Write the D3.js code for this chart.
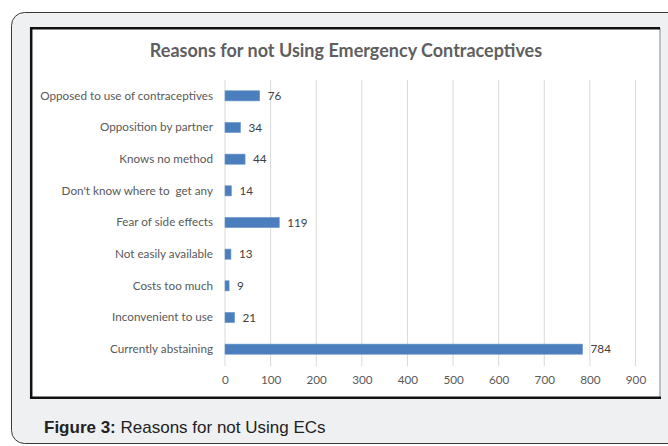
<!DOCTYPE html>
<html>
<head>
<meta charset="utf-8">
<script src="https://cdn.jsdelivr.net/npm/d3@7"></script>
<style>
  html, body { margin: 0; padding: 0; background: #fff; }
  svg { display: block; }
</style>
</head>
<body>
<svg id="chart"></svg>
<script>
// chart values
const categories = [
  "Opposed to use of contraceptives",
  "Opposition by partner",
  "Knows no method",
  "Don't know where to  get any",
  "Fear of side effects",
  "Not easily available",
  "Costs too much",
  "Inconvenient to use",
  "Currently abstaining"
];
const counts = [76, 34, 44, 14, 119, 13, 9, 21, 784];
const xTicks = [0, 100, 200, 300, 400, 500, 600, 700, 800, 900];
const chartTitle = "Reasons for not Using Emergency Contraceptives";

const W = 668, H = 446;
const svg = d3.select("#chart").attr("width", W).attr("height", H);

// figure frame
svg.append("rect")
  .attr("x", 11.5).attr("y", 12.5)
  .attr("width", 680).attr("height", 431)
  .attr("rx", 13)
  .style("fill", "#eff0f2")
  .style("stroke", "#3a3a3a")
  .style("stroke-width", 1);

// chart box
svg.append("rect")
  .attr("x", 31).attr("y", 28)
  .attr("width", 629).attr("height", 370)
  .style("fill", "#fff");
svg.append("line").attr("x1", 660).attr("x2", 660).attr("y1", 28).attr("y2", 398)
  .style("stroke", "#9a9a9a").style("stroke-width", 1.2);
svg.append("path")
  .attr("d", "M660,28.2 L31.2,28.2 L31.2,397.8 L661,397.8")
  .style("fill", "none")
  .style("stroke", "#111")
  .style("stroke-width", 2.5);

svg.append("text")
  .attr("x", 346).attr("y", 57)
  .attr("text-anchor", "middle")
  .style("font-family", "Lato, 'Open Sans', sans-serif")
  .style("font-weight", "bold")
  .style("font-size", "18px")
  .style("fill", "#5f5f5f")
  .text(chartTitle);

const x = d3.scaleLinear().domain([0, 900]).range([225, 635.5]);
const y = d3.scaleBand().domain(categories).range([80, 365]).paddingInner(0.68).paddingOuter(0.34);

const g = svg.append("g");

// gridlines
g.selectAll(".grid")
  .data(xTicks)
  .enter()
  .append("line")
  .attr("class", "grid")
  .attr("x1", d => x(d)).attr("x2", d => x(d))
  .attr("y1", 80).attr("y2", 366)
  .style("stroke", "#d9d9d9")
  .style("stroke-width", 1);

// x axis labels
const xAxis = g.append("g")
  .attr("transform", "translate(0,366)")
  .call(d3.axisBottom(x).tickValues(xTicks).tickSize(0).tickPadding(10));
xAxis.select(".domain").remove();
xAxis.selectAll("text")
  .style("font-family", "Lato, 'Open Sans', sans-serif")
  .style("font-size", "11.7px")
  .style("fill", "#595959");

// category labels
const yAxis = g.append("g")
  .attr("transform", "translate(225,0)")
  .call(d3.axisLeft(y).tickSize(0).tickPadding(12));
yAxis.select(".domain").remove();
yAxis.selectAll("text")
  .style("font-family", "Lato, 'Open Sans', sans-serif")
  .style("font-size", "11.7px")
  .style("fill", "#595959")
  .style("white-space", "pre");

// bars
g.selectAll(".bar")
  .data(counts)
  .enter()
  .append("rect")
  .attr("class", "bar")
  .attr("x", x(0))
  .attr("y", (d, i) => y(categories[i]))
  .attr("width", d => x(d) - x(0))
  .attr("height", y.bandwidth())
  .style("fill", "#4a7ebd")
  .style("stroke", "#6d98cc")
  .style("stroke-width", 0.6);

// value labels
g.selectAll(".val")
  .data(counts)
  .enter()
  .append("text")
  .attr("class", "val")
  .attr("x", d => x(d) + 8)
  .attr("y", (d, i) => y(categories[i]) + y.bandwidth() / 2)
  .attr("dy", "0.35em")
  .style("font-family", "Lato, 'Open Sans', sans-serif")
  .style("font-size", "11.7px")
  .style("fill", "#404040")
  .text(d => d);

// figure caption
const cap = svg.append("text")
  .attr("x", 44).attr("y", 433)
  .style("font-family", "'Liberation Sans', Arial, sans-serif")
  .style("font-size", "17px")
  .style("fill", "#222");
cap.append("tspan").style("font-weight", "bold").text("Figure 3:");
cap.append("tspan").text(" Reasons for not Using ECs");
</script>
</body>
</html>
